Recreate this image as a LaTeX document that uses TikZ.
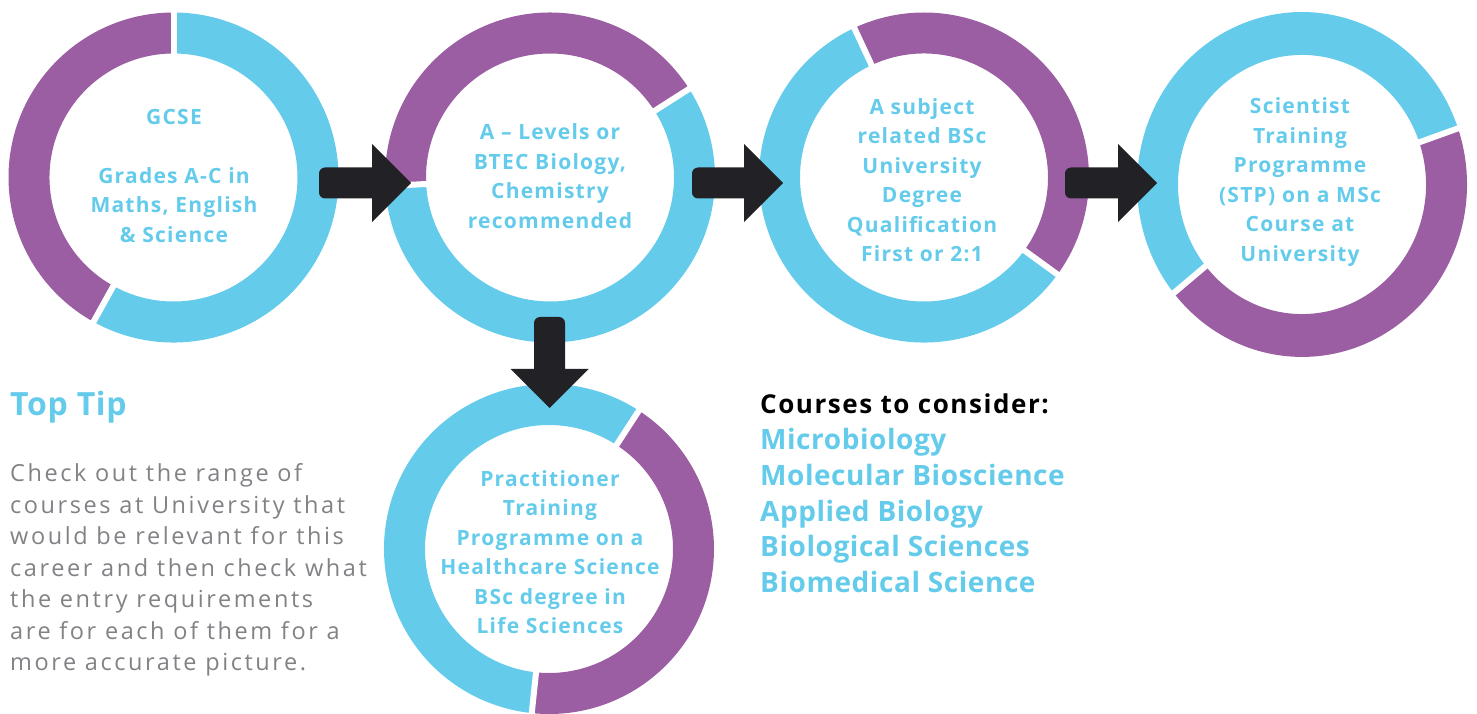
\documentclass[tikz,border=0pt]{standalone}
\usepackage{fontspec}
\setmainfont{Open Sans}
\newfontfamily\ringfont[LetterSpace=6]{Open Sans}
\newfontfamily\listfont[LetterSpace=2]{Open Sans}
\newfontfamily\tipfont[LetterSpace=11]{Open Sans}
\usetikzlibrary{calc}
\definecolor{cy}{HTML}{64CBEB}
\definecolor{pu}{HTML}{9B5EA2}
\definecolor{dk}{HTML}{222226}
\definecolor{gr}{HTML}{808285}
\tikzset{
  gapline/.style={white, line width=6pt},
  ringtext/.style={text=cy, font=\ringfont\bfseries\fontsize{21}{29.5}\selectfont, align=center, inner sep=0pt},
  listtext/.style={text=cy, font=\listfont\bfseries\fontsize{28}{35.8}\selectfont, align=left, inner sep=0pt},
}
\newcommand\ringarc[3]{\fill[#3] (#1:165) arc[start angle=#1, end angle=#2, radius=165] -- (#2:124) arc[start angle=#2, end angle=#1, radius=124] -- cycle;}
\newcommand\ringgap[1]{\draw[gapline] (#1:118) -- (#1:171);}
\newcommand\blockarrow[3]{%
  \begin{scope}[shift={(#1)}, rotate=#2]
    \fill[dk] (20,15.5) [rounded corners=6pt] -- (0,15.5) -- (0,-15.5) -- (20,-15.5) [sharp corners] -- ({#3-39},-15.5) -- ({#3-39},-39) -- (#3,0) -- ({#3-39},39) -- ({#3-39},15.5) -- cycle;
  \end{scope}}
\begin{document}
\begin{tikzpicture}[x=1pt, y=1pt]
\useasboundingbox (0,0) rectangle (1477,713);
% ring 1
\begin{scope}[shift={(173.5,535.5)}]
  \coordinate (c1) at (0,0);
  \ringarc{90}{241}{pu}
  \ringarc{241}{450}{cy}
  \ringgap{90}\ringgap{241}
\end{scope}
% ring 2
\begin{scope}[shift={(550,535.5)}]
  \coordinate (c2) at (0,0);
  \ringarc{32.5}{183}{pu}
  \ringarc{183}{392.5}{cy}
  \ringgap{32.5}\ringgap{183}
\end{scope}
% ring 3
\begin{scope}[shift={(924,535.5)}]
  \coordinate (c3) at (0,0);
  \ringarc{115}{324}{cy}
  \ringarc{324}{475}{pu}
  \ringgap{115}\ringgap{324}
\end{scope}
% ring 4
\begin{scope}[shift={(1302,528.5)}, yscale=1.045]
  \coordinate (c4) at (0,0);
  \ringarc{19}{219}{cy}
  \ringarc{219}{379}{pu}
  \ringgap{19}\ringgap{219}
\end{scope}
% ring 5
\begin{scope}[shift={(549,164)}]
  \coordinate (c5) at (0,0);
  \ringarc{57}{264}{cy}
  \ringarc{264}{417}{pu}
  \ringgap{57}\ringgap{264}
\end{scope}
% arrows
\coordinate (a1) at (319,530);
\coordinate (a2) at (692,530);
\coordinate (a3) at (1065,530);
\coordinate (a4) at (549.5,396);
\blockarrow{a1}{0}{92}
\blockarrow{a2}{0}{91}
\blockarrow{a3}{0}{92}
\blockarrow{a4}{-90}{91}
% ring texts
\node[ringtext] (t1) at (174,537) {GCSE\\[29.5pt]Grades A-C in\\Maths, English\\\& Science};
\node[ringtext] (t2) at (550,537) {A – Levels or\\BTEC Biology,\\Chemistry\\recommended};
\node[ringtext] (t3) at (922,533) {A subject\\related BSc\\University\\Degree\\Qualification\\First or 2:1};
\node[ringtext] (t4) at (1300,531) {Scientist\\Training\\Programme\\(STP) on a MSc\\Course at\\University};
\node[ringtext] (t5) at (550,161) {Practitioner\\Training\\Programme on a\\Healthcare Science\\BSc degree in\\Life Sciences};
% top tip
\node[anchor=base west, text=cy, font=\listfont\bfseries\fontsize{32}{38}\selectfont, inner sep=0pt] (tt) at (10,298) {Top Tip};
\node[anchor=north west, text=gr, font=\tipfont\fontsize{23.5}{31.5}\selectfont, align=left, inner sep=0pt] (para) at (10,249.5) {Check out the range of\\courses at University that\\would be relevant for this\\career and then check what\\the entry requirements\\are for each of them for a\\more accurate picture.};
% courses
\node[anchor=base west, font=\ringfont\bfseries\fontsize{26}{30}\selectfont, inner sep=0pt] (ch) at (760,300) {Courses to consider:};
\node[listtext, anchor=north west] (cl) at (760,285) {Microbiology\\Molecular Bioscience\\Applied Biology\\Biological Sciences\\Biomedical Science};
\end{tikzpicture}
\end{document}
